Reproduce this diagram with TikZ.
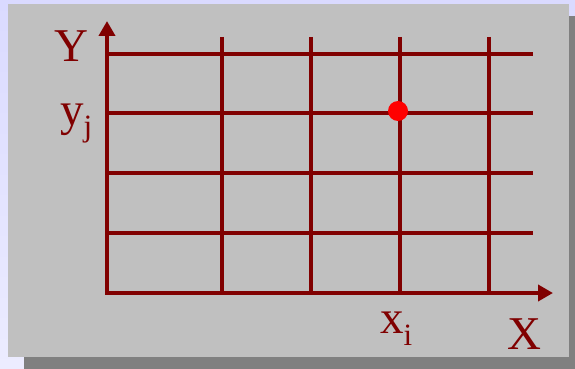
\documentclass[tikz,border=0pt]{standalone}
\usepackage{fontspec}
\setmainfont{Liberation Serif}
\usetikzlibrary{arrows.meta}
\definecolor{axisred}{RGB}{128,0,0}
\definecolor{panelgray}{RGB}{192,192,192}
\definecolor{shadowgray}{RGB}{128,128,128}
\definecolor{backtop}{RGB}{218,218,255}
\definecolor{backbot}{RGB}{236,236,255}

\begin{document}
\begin{tikzpicture}[
  x=1pt, y=-1pt,
  gridline/.style={axisred, line width=4.2pt},
  axis/.style={axisred, line width=4.2pt,
               {Triangle[length=15pt,width=16pt]}-{Triangle[length=15pt,width=16pt]}},
  lbl/.style={text=axisred, inner sep=0pt, anchor=base west,
              font=\fontsize{47}{47}\selectfont}
]
  % background, shadow and panel
  \fill[top color=backtop, bottom color=backbot] (0,0) rectangle (575,369);
  \fill[shadowgray] (24,16) rectangle (575,369);
  \fill[panelgray] (8,4) rectangle (569,357);

  \coordinate (o) at (107,293);
  \coordinate (ye) at (107,21);
  \coordinate (xe) at (553,293);

  % grid
  \foreach \gx in {222,311,400,489}
    \draw[gridline] (\gx,37) -- (\gx,293);
  \foreach \gy in {54,113,173,233}
    \draw[gridline] (107,\gy) -- (533,\gy);

  % axes
  \draw[axis] (ye) -- (o) -- (xe);

  \node[circle, fill=red, minimum size=20pt, inner sep=0pt] (pt) at (398,111) {};

  % labels
  \node[lbl] (ylab) at (54,61) {Y};
  \node[lbl] (yj) at (60,125) {y\raisebox{-11pt}{\fontsize{31}{31}\selectfont j}};
  \node[lbl] (xi) at (380,333) {x\raisebox{-12pt}{\fontsize{31}{31}\selectfont i}};
  \node[lbl] (xlab) at (507,349) {X};
\end{tikzpicture}
\end{document}
